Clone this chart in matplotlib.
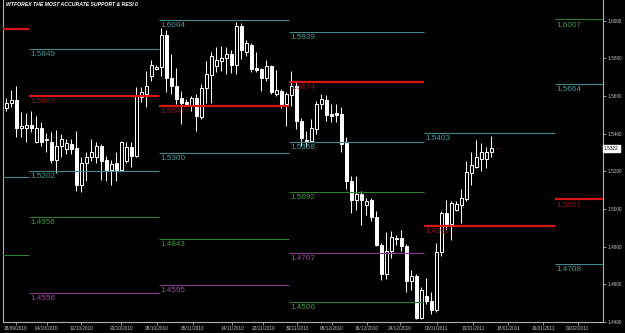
import numpy as np
import matplotlib
matplotlib.use('Agg')
from matplotlib import pyplot as plt

plt.rcParams['font.family'] = ['Liberation Sans', 'DejaVu Sans']

title = 'WTFOREX THE MOST ACCURATE SUPPORT & RESI 0'

# daily candles
opens = [1.5537, 1.5563, 1.5579, 1.5432, 1.5432, 1.5447, 1.5358, 1.5432, 1.5368, 1.5358,
         1.5258, 1.5337, 1.5321, 1.5347, 1.5326, 1.5126, 1.5247, 1.5274, 1.5274, 1.5337,
         1.5258, 1.5205, 1.5242, 1.5205, 1.5253, 1.5332, 1.5284, 1.5595, 1.5611, 1.5705,
         1.5742, 1.5753, 1.5926, 1.5695, 1.5653, 1.5590, 1.5569, 1.5553, 1.5590, 1.5490,
         1.5642, 1.5711, 1.5758, 1.5784, 1.5800, 1.5826, 1.5763, 1.5974, 1.5832, 1.5874,
         1.5747, 1.5742, 1.5695, 1.5758, 1.5611, 1.5626, 1.5558, 1.5605, 1.5653, 1.5469,
         1.5368, 1.5363, 1.5426, 1.5558, 1.5579, 1.5505, 1.5511, 1.5505, 1.5353, 1.5147,
         1.5047, 1.5079, 1.5021, 1.5047, 1.4958, 1.4811, 1.4653, 1.4779, 1.4842, 1.4847,
         1.4805, 1.4616, 1.4647, 1.4421, 1.4537, 1.4510, 1.4463, 1.4774, 1.4979, 1.4921,
         1.4995, 1.5021, 1.5053, 1.5190, 1.5226, 1.5268, 1.5268, 1.5305]
highs = [1.5590, 1.5632, 1.5653, 1.5516, 1.5511, 1.5521, 1.5495, 1.5463, 1.5405, 1.5411,
         1.5421, 1.5400, 1.5374, 1.5374, 1.5416, 1.5274, 1.5305, 1.5374, 1.5358, 1.5347,
         1.5284, 1.5258, 1.5305, 1.5363, 1.5358, 1.5358, 1.5647, 1.5647, 1.5732, 1.5790,
         1.5763, 1.5963, 1.5953, 1.5821, 1.5747, 1.5626, 1.5584, 1.5600, 1.5611, 1.5663,
         1.5784, 1.5832, 1.5863, 1.5868, 1.5863, 1.5847, 1.5995, 1.5989, 1.5900, 1.5884,
         1.5832, 1.5747, 1.5790, 1.5763, 1.5737, 1.5637, 1.5621, 1.5732, 1.5679, 1.5484,
         1.5416, 1.5479, 1.5574, 1.5611, 1.5605, 1.5558, 1.5558, 1.5542, 1.5384, 1.5174,
         1.5174, 1.5095, 1.5058, 1.5058, 1.4989, 1.4821, 1.4879, 1.4884, 1.4863, 1.4889,
         1.4816, 1.4674, 1.4653, 1.4584, 1.4632, 1.4558, 1.4821, 1.4989, 1.5047, 1.5042,
         1.5042, 1.5105, 1.5253, 1.5305, 1.5368, 1.5353, 1.5332, 1.5390]
lows = [1.5521, 1.5542, 1.5384, 1.5384, 1.5358, 1.5411, 1.5353, 1.5337, 1.5305, 1.5242,
        1.5190, 1.5279, 1.5290, 1.5295, 1.5095, 1.5089, 1.5147, 1.5253, 1.5247, 1.5153,
        1.5147, 1.5126, 1.5147, 1.5200, 1.5242, 1.5226, 1.5279, 1.5569, 1.5542, 1.5679,
        1.5737, 1.5705, 1.5621, 1.5611, 1.5558, 1.5453, 1.5547, 1.5521, 1.5416, 1.5479,
        1.5563, 1.5563, 1.5726, 1.5732, 1.5716, 1.5721, 1.5716, 1.5795, 1.5811, 1.5726,
        1.5726, 1.5626, 1.5679, 1.5611, 1.5600, 1.5537, 1.5442, 1.5547, 1.5426, 1.5337,
        1.5332, 1.5358, 1.5400, 1.5532, 1.5469, 1.5463, 1.5463, 1.5305, 1.5105, 1.4979,
        1.4995, 1.4916, 1.4968, 1.4937, 1.4805, 1.4621, 1.4626, 1.4742, 1.4811, 1.4779,
        1.4558, 1.4568, 1.4416, 1.4416, 1.4495, 1.4442, 1.4453, 1.4753, 1.4889, 1.4837,
        1.4989, 1.4926, 1.5042, 1.5126, 1.5216, 1.5200, 1.5216, 1.5279]
closes = [1.5563, 1.5579, 1.5432, 1.5442, 1.5447, 1.5432, 1.5432, 1.5358, 1.5374, 1.5258,
          1.5337, 1.5374, 1.5353, 1.5321, 1.5126, 1.5247, 1.5274, 1.5305, 1.5337, 1.5253,
          1.5205, 1.5237, 1.5205, 1.5358, 1.5332, 1.5284, 1.5600, 1.5621, 1.5653, 1.5763,
          1.5753, 1.5926, 1.5695, 1.5653, 1.5584, 1.5563, 1.5558, 1.5590, 1.5495, 1.5642,
          1.5716, 1.5811, 1.5790, 1.5800, 1.5826, 1.5763, 1.5974, 1.5847, 1.5884, 1.5742,
          1.5737, 1.5695, 1.5758, 1.5621, 1.5632, 1.5558, 1.5611, 1.5653, 1.5469, 1.5379,
          1.5363, 1.5432, 1.5558, 1.5584, 1.5500, 1.5495, 1.5500, 1.5347, 1.5147, 1.5047,
          1.5079, 1.5047, 1.5042, 1.4958, 1.4811, 1.4653, 1.4779, 1.4853, 1.4847, 1.4805,
          1.4616, 1.4647, 1.4421, 1.4568, 1.4510, 1.4463, 1.4774, 1.4979, 1.4921, 1.5032,
          1.5026, 1.5058, 1.5195, 1.5232, 1.5274, 1.5305, 1.5305, 1.5322]
last_price = 1.5322

date_labels = ['28/09/2010', '04/10/2010', '12/10/2010', '20/10/2010', '28/10/2010',
               '05/11/2010', '14/11/2010', '22/11/2010', '30/11/2010', '08/12/2010',
               '16/12/2010', '24/12/2010', '02/01/2011', '10/01/2011', '18/01/2011',
               '26/01/2011', '03/02/2011']
date_bars = [2, 8.2, 15, 23, 30.2, 37.4, 45.2, 51.4, 58.2, 65.2, 72.2, 78.8, 86.2, 93.4,
             100.4, 107.4, 114.4]
price_ticks = [1.44, 1.46, 1.48, 1.50, 1.52, 1.54, 1.56, 1.58, 1.60]

# support / resistance segments (bar units)
seg_start = [-1.2, 4.6, 30.6, 56.6, 83.6, 109.8]
seg_end = [4.6, 30.6, 56.6, 83.6, 109.8, 119.4]
level_seg = [0, 0, 0, 1, 1, 1, 1, 1, 2, 2, 2, 2, 2, 3, 3, 3, 3, 3, 3, 4, 4, 5, 5, 5, 5]
level_price = [1.5958, 1.5168, 1.4758,
               1.5849, 1.5603, 1.5202, 1.4956, 1.4556,
               1.6004, 1.5547, 1.5300, 1.4843, 1.4595,
               1.5939, 1.5674, 1.5358, 1.5092, 1.4767, 1.4506,
               1.5403, 1.4911,
               1.6007, 1.5664, 1.5051, 1.4708]
level_kind = ['R', 'T', 'G', 'T', 'R', 'T', 'G', 'P', 'T', 'R', 'T', 'G', 'P',
              'T', 'R', 'T', 'G', 'P', 'G', 'T', 'R', 'G', 'T', 'R', 'T']

line_col = {'R': '#d81414', 'T': '#3f8a8a', 'G': '#2f7f2f', 'P': '#8a3a8a'}
text_col = {'R': '#8c1414', 'T': '#4a9a9a', 'G': '#3f993f', 'P': '#9a4a9a'}

fig = plt.figure(figsize=(6.25, 3.33), dpi=100, facecolor='black')
ax = fig.add_axes([3 / 625, 11 / 333, 600 / 625, 322 / 333])
ax.set_facecolor('black')

x = np.arange(len(opens))
o = np.array(opens)
c = np.array(closes)
up = c >= o
bottom = np.minimum(o, c)
height = np.maximum(np.abs(c - o), 0.0001)

ax.vlines(x, lows, highs, color='white', lw=0.7, zorder=2)
ax.bar(x[up], height[up], 0.6, bottom[up], facecolor='black', edgecolor='white', lw=0.7, zorder=3)
ax.bar(x[~up], height[~up], 0.6, bottom[~up], facecolor='white', edgecolor='white', lw=0.7, zorder=3)

for s, p, k in zip(level_seg, level_price, level_kind):
    lw = 1.6 if k == 'R' else 0.8
    ax.hlines(p, seg_start[s], seg_end[s], color=line_col[k], lw=lw, zorder=4)
    if s > 0:
        ax.annotate('%.4f' % p, (seg_start[s], p), xytext=(1, -1.5), textcoords='offset points',
                    va='top', ha='left', fontsize=5.9, color=text_col[k], zorder=5)

ax.text(97.7, 1.5326, '\u2190', color='#901818', fontsize=5, va='center', ha='left', zorder=5)

ax.set_xlim(-0.6, 119.4)
ax.set_ylim(1.4416, 1.61105)

ax.yaxis.tick_right()
ax.set_yticks(price_ticks)
ax.set_yticklabels(['%.4f' % t for t in price_ticks])
ax.set_xticks(date_bars)
ax.set_xticklabels(date_labels)
ax.tick_params(colors='#c8c8c8', labelsize=3.4, length=2, width=0.5, pad=1)

for side in ['left', 'right', 'bottom']:
    ax.spines[side].set_color('#b0b0b0')
    ax.spines[side].set_linewidth(0.8)
ax.spines['top'].set_visible(False)

ax.text(1.0017, last_price, '%.4f' % last_price, transform=ax.get_yaxis_transform(),
        fontsize=3.4, color='black', va='center', ha='left',
        bbox=dict(facecolor='white', edgecolor='white', pad=0.8))

fig.text(6 / 625, 1 - 5 / 333, title, fontsize=3.7, fontweight='bold', fontstyle='italic',
         color='white', va='center', ha='left')

fig.savefig('out.png', dpi=100, facecolor='black')
